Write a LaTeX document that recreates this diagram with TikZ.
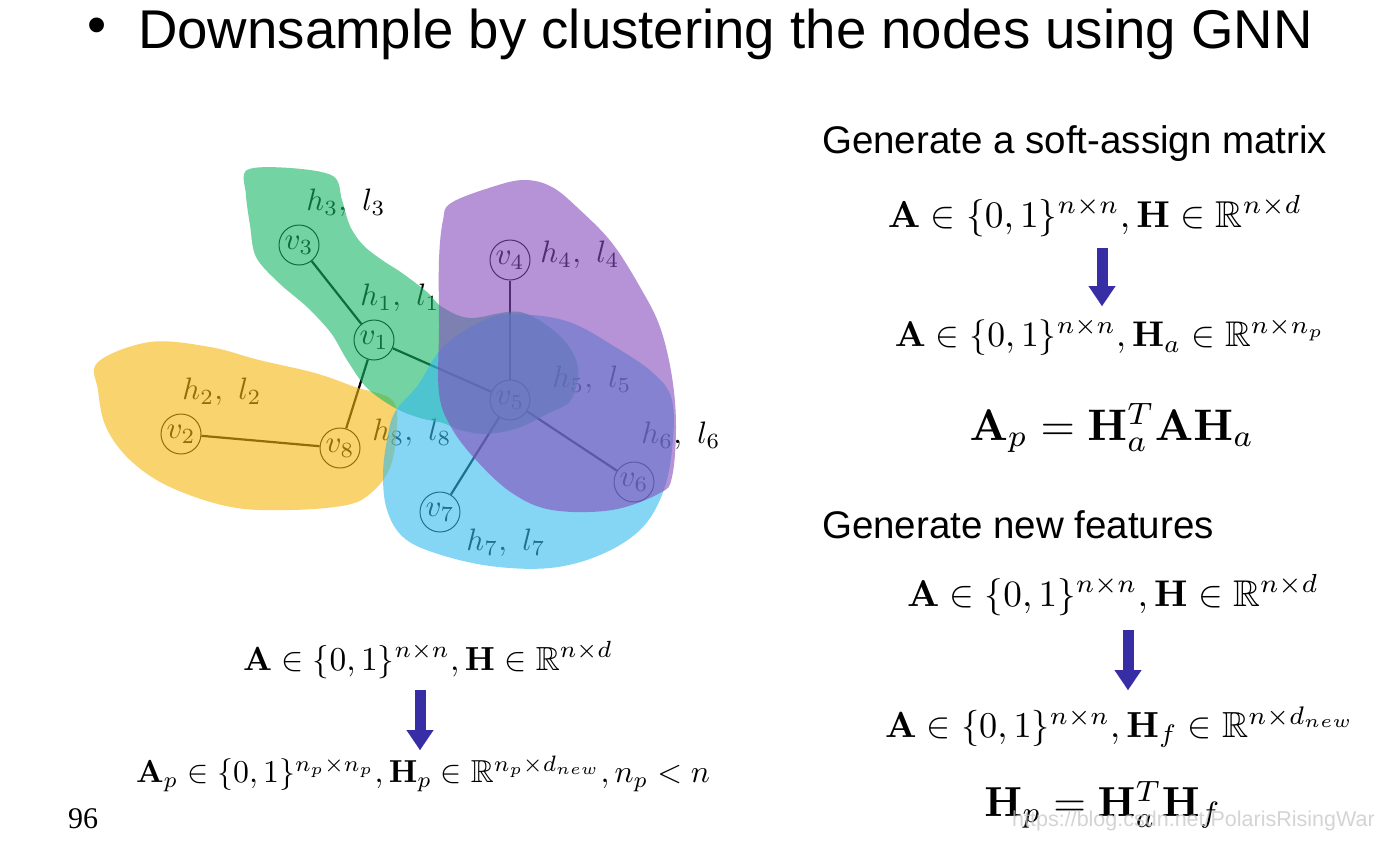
\documentclass[tikz,border=0pt]{standalone}
\usepackage[no-math]{fontspec}
\usepackage{amsmath,amssymb}
\newfontfamily\arialf{Liberation Sans}
\newfontfamily\timesf{Liberation Serif}
\usetikzlibrary{arrows.meta}
\definecolor{cg}{RGB}{23,183,103}
\definecolor{cy}{RGB}{245,183,13}
\definecolor{cb}{RGB}{53,187,237}
\definecolor{cp}{RGB}{132,75,187}
\definecolor{arrowblue}{RGB}{55,45,165}
\tikzset{
  vnode/.style={circle, draw=black, line width=1pt, minimum size=40pt, inner sep=0pt},
  lab/.style={inner sep=0pt},
  edge/.style={draw=black, line width=2.2pt},
  blob/.style={fill opacity=0.6},
  bigarrow/.style={draw=arrowblue, line width=11pt, -{Triangle[width=27pt,length=20pt,line width=0.1pt]}},
  heading/.style={font=\arialf\fontsize{38.5}{44}\selectfont, anchor=base west, inner sep=0pt},
  fm/.style={inner sep=0pt}
}
\begin{document}
\begin{tikzpicture}[x=1pt,y=-1pt]
\useasboundingbox (0,0) rectangle (1400,844);
\fill[white] (0,0) rectangle (1400,844);

% title
\node[font=\arialf\fontsize{54.6}{60}\selectfont, inner sep=0pt] (bul) at (97,31) {•};
\node[font=\arialf\fontsize{54.6}{60}\selectfont, anchor=base west, inner sep=0pt] (title) at (138,48) {Downsample by clustering the nodes using GNN};

% graph
\node[vnode] (v3) at (299,245) {\scalebox{3.1}{$v_3$}};
\node[vnode] (v1) at (374,340) {\scalebox{3.1}{$v_1$}};
\node[vnode] (v4) at (510,260) {\scalebox{3.1}{$v_4$}};
\node[vnode] (v5) at (510,400) {\scalebox{3.1}{$v_5$}};
\node[vnode] (v2) at (181,434) {\scalebox{3.1}{$v_2$}};
\node[vnode] (v8) at (340,448) {\scalebox{3.1}{$v_8$}};
\node[vnode] (v6) at (634,482) {\scalebox{3.1}{$v_6$}};
\node[vnode] (v7) at (440,512) {\scalebox{3.1}{$v_7$}};
\draw[edge] (v3) -- (v1);
\draw[edge] (v1) -- (v8);
\draw[edge] (v1) -- (v5);
\draw[edge] (v2) -- (v8);
\draw[edge] (v4) -- (v5);
\draw[edge] (v5) -- (v6);
\draw[edge] (v5) -- (v7);

\node[lab] (l3) at (346,203) {\scalebox{3.1}{$h_3,\ l_3$}};
\node[lab] (l4) at (580,255) {\scalebox{3.1}{$h_4,\ l_4$}};
\node[lab] (l1) at (400,298) {\scalebox{3.1}{$h_1,\ l_1$}};
\node[lab] (l5) at (592,380) {\scalebox{3.1}{$h_5,\ l_5$}};
\node[lab] (l2) at (222,392) {\scalebox{3.1}{$h_2,\ l_2$}};
\node[lab] (l8) at (412,433) {\scalebox{3.1}{$h_8,\ l_8$}};
\node[lab] (l6) at (681,436) {\scalebox{3.1}{$h_6,\ l_6$}};
\node[lab] (l7) at (506,543) {\scalebox{3.1}{$h_7,\ l_7$}};

% cluster blobs (drawn over the graph, translucent)
\fill[cy, blob] plot[smooth cycle, tension=0.6] coordinates {(98,362) (150,342) (210,347) (259,360) (315,373) (355,387) (393,401) (396,437) (389,470) (371,493) (347,505) (291,510) (231,507) (170,487) (130,460) (106,427) (98,390)};
\fill[cg, blob] plot[smooth cycle, tension=0.55] coordinates {(247,170) (290,168) (333,176) (342,200) (350,226) (363,245) (382,260) (402,273) (427,292) (442,307) (470,318) (520,312) (560,336) (578,367) (571,400) (547,414) (518,428) (487,434) (460,430) (443,423) (420,418) (395,408) (367,388) (347,360) (331,333) (307,307) (279,283) (256,257) (250,225) (246,195)};
\fill[cb, blob] plot[smooth cycle, tension=0.6] coordinates {(395,412) (418,385) (445,345) (492,317) (532,315) (572,323) (612,345) (652,372) (672,400) (672,450) (662,495) (640,530) (600,555) (550,568) (490,566) (435,553) (403,537) (387,510) (383,475) (387,440)};
\fill[cp, blob] plot[smooth cycle, tension=0.6] coordinates {(443,220) (451,203) (492,187) (524,180) (552,187) (580,210) (612,243) (640,287) (660,327) (672,377) (676,427) (672,477) (660,493) (612,510) (552,510) (512,493) (476,460) (451,427) (439,393) (439,327) (439,260)};

% left formulas
\node[fm] (f7) at (428,660) {\scalebox{3.34}{$\mathbf{A}\in\{0,1\}^{n\times n},\mathbf{H}\in\mathbb{R}^{n\times d}$}};
\node[fm] (f8) at (423,774) {\scalebox{3.18}{$\mathbf{A}_p\in\{0,1\}^{n_p\times n_p},\mathbf{H}_p\in\mathbb{R}^{n_p\times d_{new}},n_p<n$}};
\coordinate (a3s) at (420,690);
\coordinate (a3e) at (420,750);
\draw[bigarrow] (a3s) -- (a3e);

% right: soft assign
\node[heading] (h1) at (822,153) {Generate a soft-assign matrix};
\node[fm] (f1) at (1095,216) {\scalebox{3.74}{$\mathbf{A}\in\{0,1\}^{n\times n},\mathbf{H}\in\mathbb{R}^{n\times d}$}};
\coordinate (a1s) at (1102,248);
\coordinate (a1e) at (1102,306);
\draw[bigarrow] (a1s) -- (a1e);
\node[fm] (f2) at (1110,337) {\scalebox{3.57}{$\mathbf{A}\in\{0,1\}^{n\times n},\mathbf{H}_a\in\mathbb{R}^{n\times n_p}$}};
\node[fm] (f3) at (1112,428) {\scalebox{4.42}{$\mathbf{A}_p=\mathbf{H}_a^T\mathbf{A}\mathbf{H}_a$}};

% right: new features
\node[heading] (h2) at (822,538) {Generate new features};
\node[fm] (f4) at (1113,595) {\scalebox{3.72}{$\mathbf{A}\in\{0,1\}^{n\times n},\mathbf{H}\in\mathbb{R}^{n\times d}$}};
\coordinate (a2s) at (1128,630);
\coordinate (a2e) at (1128,690);
\draw[bigarrow] (a2s) -- (a2e);
\node[fm] (f5) at (1120,727) {\scalebox{3.63}{$\mathbf{A}\in\{0,1\}^{n\times n},\mathbf{H}_f\in\mathbb{R}^{n\times d_{new}}$}};
\node[fm] (f6) at (1103,805) {\scalebox{4.2}{$\mathbf{H}_p=\mathbf{H}_a^T\mathbf{H}_f$}};

% page number and watermark
\node[font=\timesf\fontsize{30}{30}\selectfont, anchor=base west, inner sep=0pt] (pg) at (68,828) {96};
\node[font=\arialf\fontsize{21.5}{24}\selectfont, text=gray!45, text opacity=0.75, anchor=west, inner sep=0pt] (wm) at (1012,821) {https://blog.csdn.net/PolarisRisingWar};
\end{tikzpicture}
\end{document}
